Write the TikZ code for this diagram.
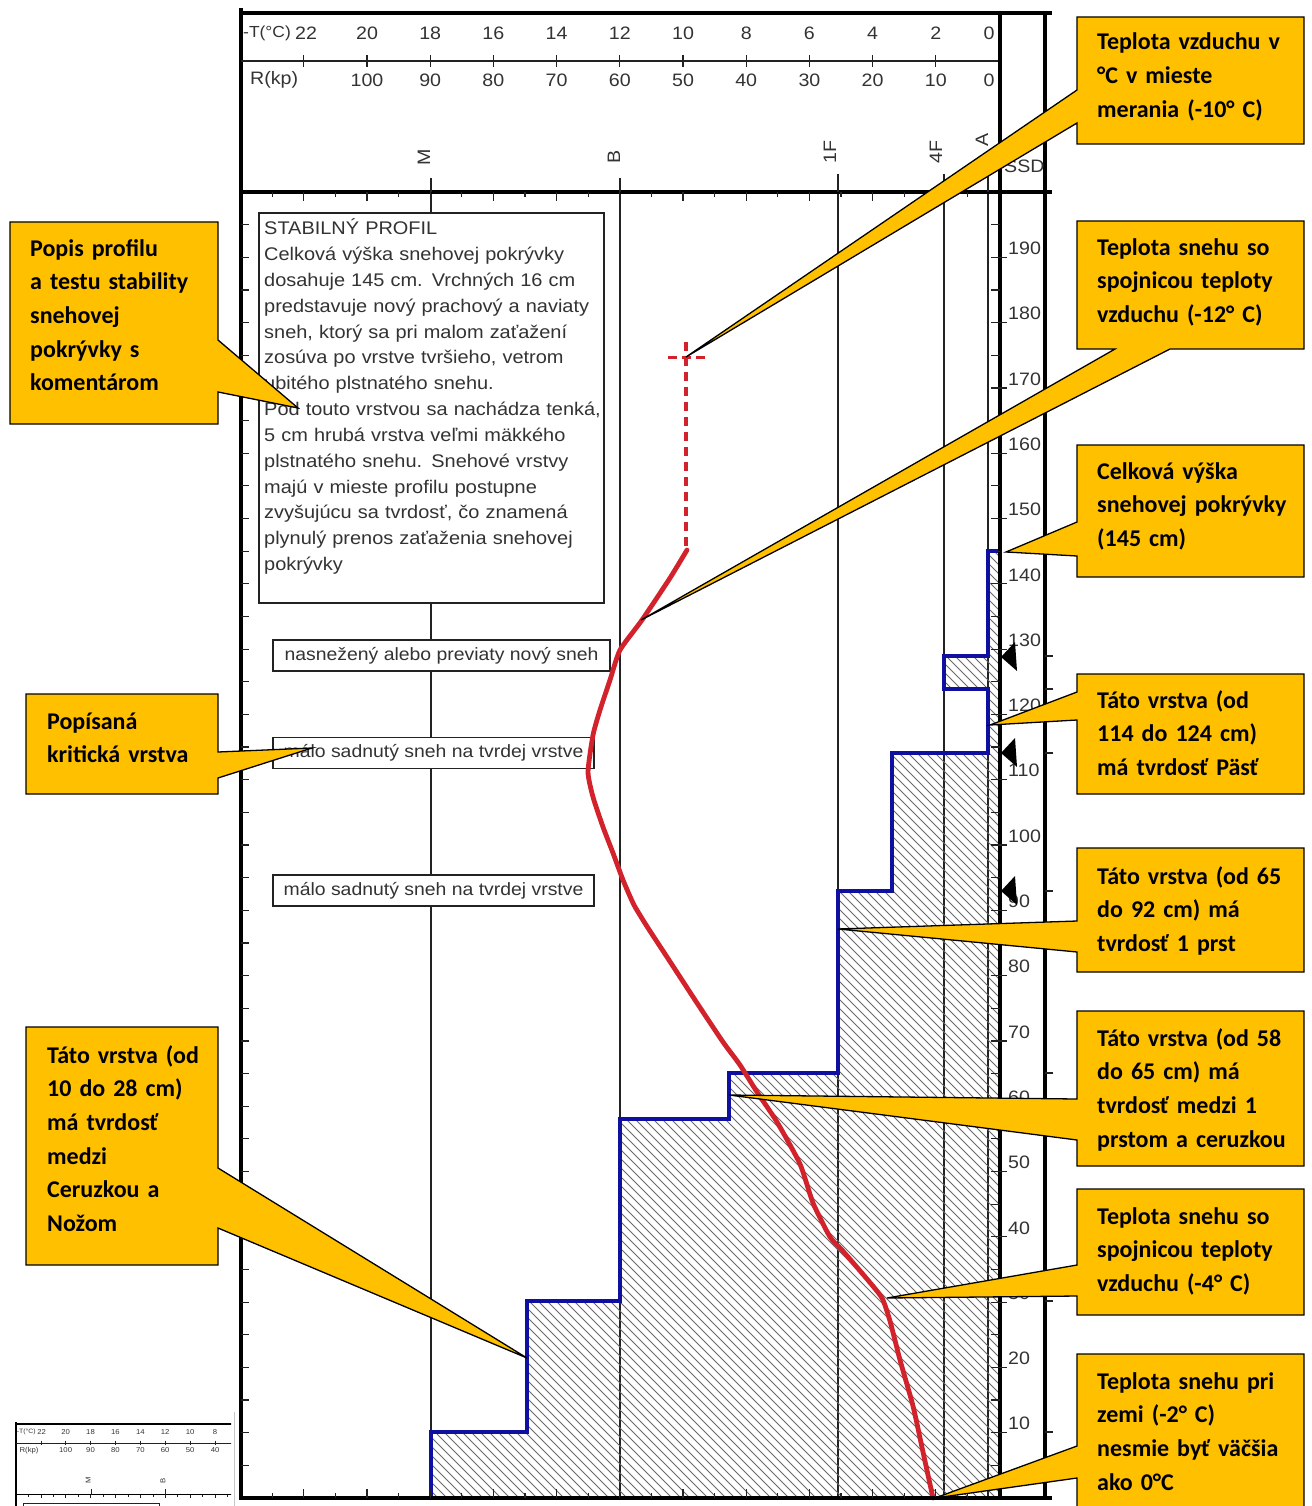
\documentclass[tikz,border=0pt]{standalone}
\usepackage{fontspec}
\newfontfamily\chartfont[FakeStretch=1.09]{Liberation Sans}
\newfontfamily\callfont{Carlito}
\definecolor{callyellow}{HTML}{FFC000}
\definecolor{profblue}{HTML}{1010A0}
\definecolor{tempred}{HTML}{D2222B}
\definecolor{charttext}{HTML}{333333}
\definecolor{gridgray}{HTML}{222222}
\definecolor{hatchgray}{HTML}{6A6A6A}
\def\hs{1}
\tikzset{
  hdrlabel/.style={font=\chartfont\fontsize{18}{20}\selectfont, text=charttext, inner sep=0pt},
  thickln/.style={line width=\hs*4pt, black},
  thinln/.style={line width=\hs*1.2pt, gridgray},
  gridln/.style={line width=1.4pt, gridgray},
  hatchln/.style={line width=0.75pt, hatchgray},
  bluestep/.style={line width=4.5pt, profblue, line join=miter},
  redtemp/.style={line width=4.8pt, tempred, line join=round, line cap=round},
  lblbox/.style={draw=gridgray, line width=1.2pt, fill=white, minimum height=31pt, inner sep=0pt,
    font=\chartfont\fontsize{17.8}{20}\selectfont, text=charttext},
  callbox/.style={fill=callyellow, draw=black, line width=1.3pt, line join=miter},
  calltext/.style={font=\callfont\bfseries\fontsize{24}{33.7}\selectfont, anchor=base west,
    text width=240pt, align=left, inner sep=0pt, text=black},
  profiletext/.style={font=\chartfont\fontsize{18.3}{25.8}\selectfont, anchor=base west,
    text width=400pt, align=left, inner sep=0pt, text=charttext}
}
\newcommand\chartheader[1]{%
  \draw[thickln] (241,8) -- (241,1500);
  \draw[thickln] (239,13) -- (1052,13);
  \draw[thinln] (241,61) -- (1000,61);
  \draw[thickln] (239,192) -- (1052,192);
  \node[hdrlabel, anchor=west, font=\chartfont\fontsize{16}{18}\selectfont] (#1Tname) at (243,33) {-T(°C)};
  \node[hdrlabel] (#1Tzero) at (989,33) {0};
  \foreach \tv in {2,4,...,20} {
    \node[hdrlabel] (#1T\tv) at ({999-31.6*\tv},33) {\tv};
  }
  \node[hdrlabel] (#1T22) at (306,33) {22};
  \foreach \tv in {2,4,...,22} {
    \draw[thinln] ({999-31.6*\tv},55) -- ({999-31.6*\tv},67);
  }
  \node[hdrlabel, anchor=west] (#1Rname) at (250,80) {R(kp)};
  \node[hdrlabel] (#1Rzero) at (989,80) {0};
  \foreach \rv in {10,20,...,100} {
    \node[hdrlabel] (#1R\rv) at ({999-6.32*\rv},80) {\rv};
  }
  \node[hdrlabel, rotate=90] (#1hM) at (424,157) {M};
  \node[hdrlabel, rotate=90] (#1hB) at (614,157) {B};
  \node[hdrlabel, rotate=90] (#1hF) at (830,152) {1F};
  \node[hdrlabel, rotate=90] (#1hFF) at (936,152) {4F};
  \node[hdrlabel, rotate=90] (#1hA) at (982,140) {A};
  \foreach \hx/\hy in {431/178,620/178,838/174,944/174,988/160} {
    \draw[thinln] (\hx,\hy) -- (\hx,192);
  }
  \foreach \tv in {1,...,23} {
    \pgfmathsetmacro\tl{ifthenelse(mod(\tv,2)==0,9,5)}
    \draw[thinln] ({999-31.6*\tv},192) -- ({999-31.6*\tv},{192+\tl});
  }
  \foreach \hv in {0,5,...,195} {
    \draw[thinln] (241,{1498-6.53*\hv}) -- (249,{1498-6.53*\hv});
  }
  \draw[thinln, fill=white] (259,213) rectangle (604,603);
}
\begin{document}
\begin{tikzpicture}[x=1pt,y=-1pt]
\useasboundingbox (0,0) rectangle (1311,1506);
\fill[white] (0,0) rectangle (1311,1506);

% grid lines of hardness
\foreach \gx in {431,620,838,944,988} {
  \draw[gridln] (\gx,192) -- (\gx,1498);
}

% hatching of the hardness profile
\begin{scope}
  \clip (431,1498) -- (431,1432) -- (527,1432) -- (527,1301) -- (620,1301) -- (620,1119)
    -- (729,1119) -- (729,1073) -- (838,1073) -- (838,891) -- (892,891) -- (892,753)
    -- (988,753) -- (988,689) -- (944,689) -- (944,656) -- (988,656) -- (988,551)
    -- (999,551) -- (999,1498) -- cycle;
  \foreach \a in {-700,-691,...,1000} {
    \draw[hatchln] (\a,540) -- ({\a+960},1500);
  }
\end{scope}

% blue hardness profile
\draw[bluestep] (431,1500) -- (431,1432) -- (527,1432) -- (527,1301) -- (620,1301) -- (620,1119)
    -- (729,1119) -- (729,1073) -- (838,1073) -- (838,891) -- (892,891) -- (892,753)
    -- (988,753) -- (988,689) -- (944,689) -- (944,656) -- (988,656) -- (988,551) -- (999,551);

% header, left axis and description box
\chartheader{m}

\node[profiletext] (desc) at (264,235) {STABILNÝ PROFIL\\
Celková výška snehovej pokrývky\\
dosahuje 145 cm. Vrchných 16 cm\\
predstavuje nový prachový a naviaty\\
sneh, ktorý sa pri malom zaťažení\\
zosúva po vrstve tvršieho, vetrom\\
ubitého plstnatého snehu.\\
Pod touto vrstvou sa nachádza tenká,\\
5 cm hrubá vrstva veľmi mäkkého\\
plstnatého snehu. Snehové vrstvy\\
majú v mieste profilu postupne\\
zvyšujúcu sa tvrdosť, čo znamená\\
plynulý prenos zaťaženia snehovej\\
pokrývky};

% layer labels
\node[lblbox, minimum width=337pt] (lab1) at (441.5,655.5) {nasnežený alebo previaty nový sneh};
\node[lblbox, minimum width=321pt] (lab2) at (433.5,753) {málo sadnutý sneh na tvrdej vrstve};
\node[lblbox, minimum width=321pt] (lab3) at (433.5,890.5) {málo sadnutý sneh na tvrdej vrstve};

% temperature profile
\draw[redtemp] plot[smooth, tension=0.35] coordinates {
  (687,550) (670,578) (642,620) (620,650) (610,680) (600,710) (593,735) (588,772)
  (593,797) (603,827) (613,853) (623,880) (634,905) (648,928) (667,957) (697,1003)
  (723,1042) (740,1065) (757,1092) (777,1122) (800,1164) (813,1203) (830,1237)
  (842,1250) (867,1279) (882,1298) (890,1321) (900,1360) (913,1406) (923,1452) (933,1498)};
\draw[tempred, line width=4.5pt, dash pattern=on 9pt off 6pt] (686,546) -- (686,341);
\draw[tempred, line width=3pt, dash pattern=on 9pt off 5pt] (668,357) -- (705,357);

% frame lines
\draw[thickln] (1000,13) -- (1000,1500);
\draw[thickln] (1045,13) -- (1045,1500);
\draw[thickln] (239,1498) -- (1052,1498);

% bottom ticks
\foreach \tv in {1,...,23} {
  \pgfmathsetmacro\tl{ifthenelse(mod(\tv,2)==0,9,5)}
  \draw[thinln] ({999-31.6*\tv},1498) -- ({999-31.6*\tv},{1498-\tl});
}
% height scale
\foreach \hv in {5,10,...,195} {
  \draw[thinln] (991,{1498-6.53*\hv}) -- (1000,{1498-6.53*\hv});
}
\foreach \hv in {10,20,...,190} {
  \draw[thinln] (1000,{1498-6.53*\hv}) -- (1007,{1498-6.53*\hv});
  \node[hdrlabel, anchor=west] (hl\hv) at (1008,{1498-6.53*\hv-9}) {\hv};
}
\node[hdrlabel, anchor=west] (ssd) at (1004,166) {SSD};
\foreach \ry in {551,656,689,753,891,1073,1119,1301,1432} {
  \draw[thinln] (1045,\ry) -- (1053,\ry);
}
% stability test markers
\foreach \ty in {657,753,891} {
  \fill[black] (1001,\ty) -- (1015,{\ty-15}) -- (1017,{\ty+14}) -- cycle;
}

% callouts
\coordinate (tipA) at (686,357);
\coordinate (tipB) at (641,620);
\coordinate (tipC) at (1006,552);
\coordinate (tipD) at (990,725);
\coordinate (tipE) at (838,929);
\coordinate (tipF) at (729,1095);
\coordinate (tipG) at (887,1298);
\coordinate (tipH) at (935,1498);
\coordinate (tipI) at (298,408);
\coordinate (tipJ) at (312,748);
\coordinate (tipK) at (527,1358);

\draw[callbox] (1077,17) -- (1304,17) -- (1304,144) -- (1077,144) -- (1077,123) -- (tipA) -- (1077,90) -- cycle;
\node[calltext] (cA) at (1097,50) {Teplota vzduchu v\\°C v mieste\\merania (-10° C)};

\draw[callbox] (1077,221) -- (1304,221) -- (1304,349) -- (1170,349) -- (tipB) -- (1115,349) -- (1077,349) -- cycle;
\node[calltext] (cB) at (1097,255) {Teplota snehu so\\spojnicou teploty\\vzduchu (-12° C)};

\draw[callbox] (1077,445) -- (1304,445) -- (1304,577) -- (1077,577) -- (1077,556) -- (tipC) -- (1077,522) -- cycle;
\node[calltext] (cC) at (1097,479) {Celková výška\\snehovej pokrývky\\(145 cm)};

\draw[callbox] (1077,674) -- (1304,674) -- (1304,794) -- (1077,794) -- (1077,720) -- (tipD) -- (1077,692) -- cycle;
\node[calltext] (cD) at (1097,708) {Táto vrstva (od\\114 do 124 cm)\\má tvrdosť Päsť};

\draw[callbox] (1077,848) -- (1304,848) -- (1304,972) -- (1077,972) -- (1077,952) -- (tipE) -- (1077,921) -- cycle;
\node[calltext] (cE) at (1097,884) {Táto vrstva (od 65\\do 92 cm) má\\tvrdosť 1 prst};

\draw[callbox] (1077,1011) -- (1304,1011) -- (1304,1166) -- (1077,1166) -- (1077,1140) -- (tipF) -- (1077,1099) -- cycle;
\node[calltext] (cF) at (1097,1046) {Táto vrstva (od 58\\do 65 cm) má\\tvrdosť medzi 1\\prstom a ceruzkou};

\draw[callbox] (1077,1189) -- (1304,1189) -- (1304,1315) -- (1077,1315) -- (1077,1296) -- (tipG) -- (1077,1265) -- cycle;
\node[calltext] (cG) at (1097,1224) {Teplota snehu so\\spojnicou teploty\\vzduchu (-4° C)};

\draw[callbox] (1077,1354) -- (1304,1354) -- (1304,1514) -- (1077,1514) -- (1077,1478) -- (tipH) -- (1077,1446) -- cycle;
\node[calltext] (cH) at (1097,1389) {Teplota snehu pri\\zemi (-2° C)\\nesmie byť väčšia\\ako 0°C};

\draw[callbox] (10,222) -- (218,222) -- (218,340) -- (tipI) -- (218,392) -- (218,424) -- (10,424) -- cycle;
\node[calltext] (cI) at (30,256) {Popis profilu\\a testu stability\\snehovej\\pokrývky s\\komentárom};

\draw[callbox] (26,694) -- (218,694) -- (218,752) -- (tipJ) -- (218,778) -- (218,794) -- (26,794) -- cycle;
\node[calltext] (cJ) at (47,729) {Popísaná\\kritická vrstva};

\draw[callbox] (26,1027) -- (218,1027) -- (218,1168) -- (tipK) -- (218,1228) -- (218,1265) -- (26,1265) -- cycle;
\node[calltext] (cK) at (47,1063) {Táto vrstva (od\\10 do 28 cm)\\má tvrdosť\\medzi\\Ceruzkou a\\Nožom};

% thumbnail of the header
\begin{scope}
  \clip (14,1419) rectangle (231,1506);
  \begin{scope}[shift={(16,1424)}, scale=0.394, shift={(-241,-13)}, transform shape]
    \def\hs{0.394}
    \chartheader{th}
  \end{scope}
\end{scope}
\draw[gray!45, line width=1pt] (234,1412) -- (234,1506);
\end{tikzpicture}
\end{document}
